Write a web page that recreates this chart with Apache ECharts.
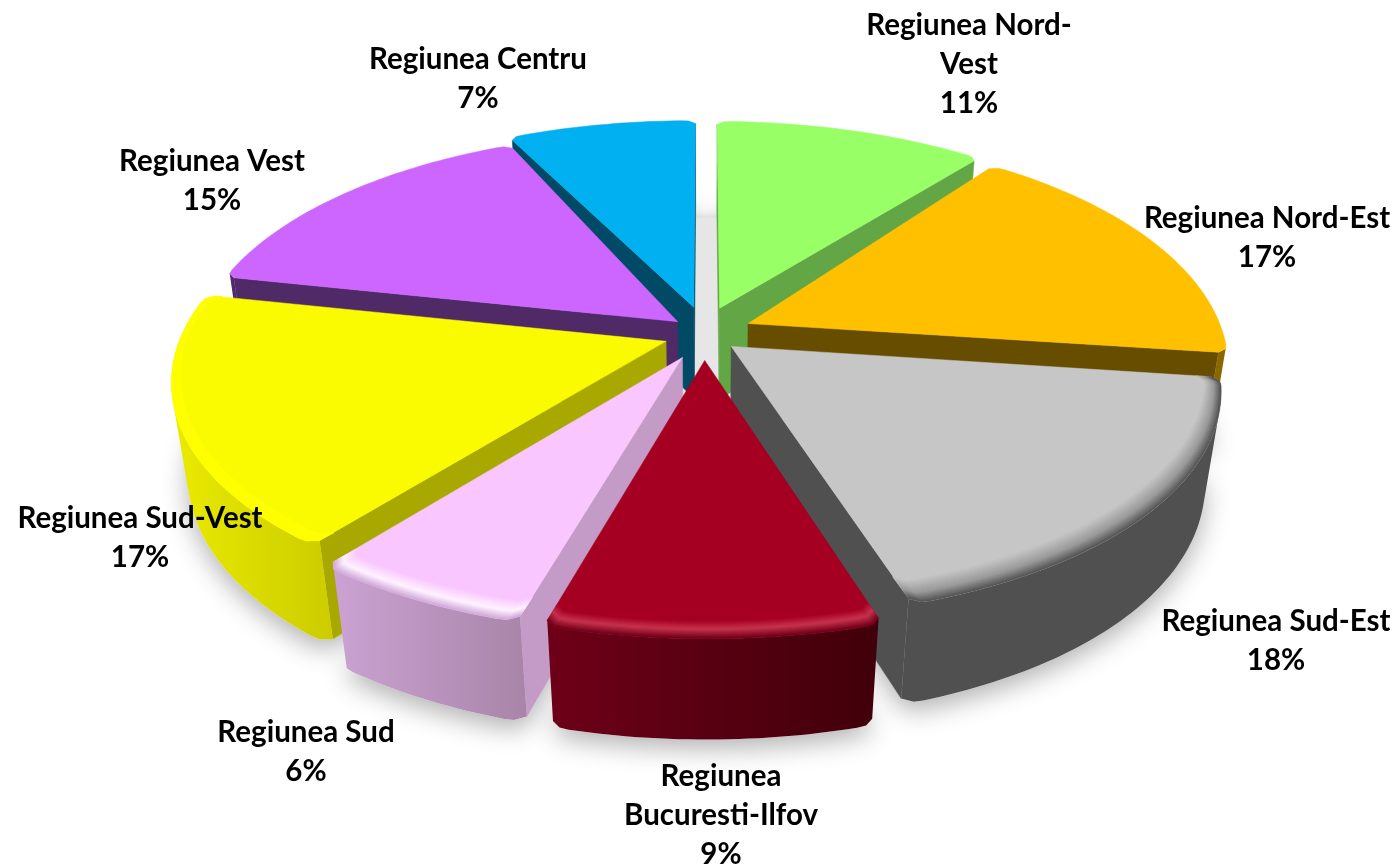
<!DOCTYPE html>
<html><head><meta charset="utf-8">
<style>html,body{margin:0;padding:0;background:#fff}#c{width:1397px;height:865px}</style>
<script src="https://cdn.jsdelivr.net/npm/echarts@6/dist/echarts.min.js"></script>
</head><body><div id="c"></div>
<script>
const regions = ['Regiunea Nord-\nVest','Regiunea Nord-Est','Regiunea Sud-Est','Regiunea\nBucuresti-Ilfov','Regiunea Sud','Regiunea Sud-Vest','Regiunea Vest','Regiunea Centru'];
const shares = [11,17,18,9,6,17,15,7];

// styling / layout, kept apart from the data
const topColors = ['#99FF66','#FFC000','#C6C6C6','#A50021','#F9C6FF','#FAFA00','#CC66FF','#00B0F0'];
const cutColors = ['#63A645','#664D00','#505050','#6E0018','#C49AC6','#A8A800','#4F2A66','#004A66'];
const wallColors = [['#63A645','#63A645'],['#8A6800','#8A6800'],['#505050','#505050'],['#6E0018','#40000A'],['#CBA2D2','#A885A8'],['#EAEA00','#CCCC00'],['#4F2A66','#4F2A66'],['#004A66','#004A66']];
const bevels = [null,null,[[.075,'#C6C6C6'],[.03,'#979797'],[0,'#505050']],[[.055,'#A50021'],[.028,'#C8354F'],[0,'#6E0018']],[[.065,'#F9C6FF'],[.028,'#FFF4FF'],[0,'#CFA8D8']],[[.04,'#FAFA00'],[.035,'#FFFF00'],[0,'#FFFF00']],null,null];
const drawOrder = [7,0,6,1,5,2,4,3];
const labelCentres = [[969,64],[1267,238],[1276,641],[721,815],[306,752],[140,538],[212,181],[478,79]];
const explode = [1,1,.75,1,1,.85,.7,1];
const startLean = [0,-1.2,0,0,0,0,0,-2.5];   // degrees: optical lean of a slice's first edge
const endLean = [1,0,0,0,0,0,0,0];           // degrees: optical lean of a slice's last edge

const CX=704, CY=333, A=476, B=224, H=95, KX=.2, KY=.16, KZ=.03, EX=.1, EY=.12, TWIST=-2.7;
const ROUND_R=.018, ROUND_A=1.5*Math.PI/180;
function project(X,Y,z){
  const wy=1-KY*Y+KZ*z, wx=1-KX*Y+KZ*z;
  return [CX+A*X/wx-3*X*X, CY+(B*Y+H*z)/wy-7*X*X+X];
}
const total=shares.reduce((a,b)=>a+b,0);
function warpAngle(deg){const s=Math.sin(deg*Math.PI/360);return (deg+TWIST*s*s)*Math.PI/180;}
function sliceAngles(i){
  let s=0; for(let k=0;k<i;k++) s+=shares[k];
  const a0=warpAngle(s/total*360), a1=warpAngle((s+shares[i])/total*360);
  return [a0+startLean[i]*Math.PI/180,a1+endLean[i]*Math.PI/180,(a0+a1)/2];
}
function pt(th,r,mid,z,off){
  const k=off;
  return project(r*Math.sin(th)+k*EX*Math.sin(mid), -r*Math.cos(th)-k*EY*Math.cos(mid), z);
}
function taper(th,a0,a1){
  const d=Math.min(th-a0,a1-th);
  if(d>=ROUND_A) return 1;
  const f=1-d/ROUND_A;
  return 1-ROUND_R*f*f;
}
function arc(a0,a1,t,mid,z,off){
  const n=Math.max(8,Math.ceil((a1-a0)/(Math.PI/180))),o=[];
  for(let j=0;j<=n;j++){
    const th=a0+(a1-a0)*j/n;
    const r=taper(th,a0,a1)-t*(.3+.7*Math.abs(Math.cos(th)));
    o.push(pt(th,r,mid,z,off));
  }
  return o;
}
function hex(c){return [1,3,5].map(i=>parseInt(c.substr(i,2),16));}
function mix(a,b,t){const p=hex(a),q=hex(b);return 'rgb('+p.map((v,i)=>Math.round(v+(q[i]-v)*t)).join(',')+')';}
function poly(points,fill,z2,extra){
  return {type:'polygon',z2:z2,shape:{points:points},style:Object.assign({fill:fill,stroke:typeof fill==='string'?fill:null,lineWidth:typeof fill==='string'?.5:0},extra||{})};
}
function area(q){let s=0;for(let i=0;i<q.length;i++){const a=q[i],b=q[(i+1)%q.length];s+=a[0]*b[1]-b[0]*a[1];}return s/2;}

function renderItem(params,api){
  const i=params.dataIndex, kids=[], off=explode[i];
  const [a0,a1,mid]=sliceAngles(i);
  const order=drawOrder.indexOf(i)+1, base=order*100;
  const apex=pt(0,0,mid,0,off), apexB=pt(0,0,mid,1,off);
  const top=arc(a0,a1,0,mid,0,off), bot=arc(a0,a1,0,mid,1,off);
  kids.push(poly([apexB].concat(bot),'#ffffff',1,{shadowBlur:26,shadowColor:'rgba(0,0,0,.30)',shadowOffsetY:9,stroke:null}));
  [[apex,top[0],apexB,bot[0]],[top[top.length-1],apex,bot[bot.length-1],apexB]].forEach(e=>{
    const q=[e[0],e[1],e[3],e[2]];
    if(area(q)<0) kids.push(poly(q,cutColors[i],base+1));
  });
  const vT=[],vB=[];
  for(let j=0;j<top.length-1;j++){
    if(area([top[j],top[j+1],bot[j+1],bot[j]])<0){
      if(!vT.length){vT.push(top[j]);vB.push(bot[j]);}
      vT.push(top[j+1]);vB.push(bot[j+1]);
    }
  }
  if(vT.length){
    const xs=vT.concat(vB).map(p=>p[0]), x0=Math.min.apply(null,xs), x1=Math.max.apply(null,xs);
    const grad=new echarts.graphic.LinearGradient(x0,0,x1,0,[{offset:0,color:wallColors[i][0]},{offset:1,color:wallColors[i][1]}],true);
    kids.push(poly(vT.concat(vB.slice().reverse()),grad,base+2));
  }
  kids.push(poly([apex].concat(top),topColors[i],base+3));
  const bev=bevels[i];
  if(bev){
    let z=base+4;
    for(let s=0;s<bev.length-1;s++){
      const steps=14;
      for(let t=0;t<steps;t++){
        const t0=bev[s][0]+(bev[s+1][0]-bev[s][0])*t/steps, t1=bev[s][0]+(bev[s+1][0]-bev[s][0])*(t+1)/steps;
        const c=mix(bev[s][1],bev[s+1][1],(t+.5)/steps);
        const outer=arc(a0,a1,t1,mid,0,off), inner=arc(a0,a1,t0,mid,0,off).reverse();
        kids.push(poly(outer.concat(inner),c,z++));
      }
    }
  }
  kids.push({type:'text',z2:5000,style:{text:regions[i]+'\n'+api.value(0)+'%',x:labelCentres[i][0],y:labelCentres[i][1],
    align:'center',verticalAlign:'middle',textAlign:'center',textVerticalAlign:'middle',
    font:'bold 29.5px Lato, "Open Sans", sans-serif',lineHeight:39,fill:'#000'}});
  if(i===0){
    const g=[];const n=24;
    for(let j=0;j<=n;j++){const th=(-25+50*j/n)*Math.PI/180;g.push(pt(th,1.04,0,1,0));}
    g.push(pt(0,-.25,0,1,0));
    kids.push(poly(g,'#E6E6E6',2,{shadowBlur:8,shadowColor:'rgba(0,0,0,.12)',stroke:null}));
  }
  return {type:'group',children:kids};
}

const chart=echarts.init(document.getElementById('c'),null,{renderer:'canvas'});
chart.setOption({
  animation:false,backgroundColor:'#fff',
  series:[{type:'custom',coordinateSystem:'none',renderItem:renderItem,data:shares.map((v,i)=>({name:regions[i],value:[v]})),silent:true}]
});
</script></body></html>
